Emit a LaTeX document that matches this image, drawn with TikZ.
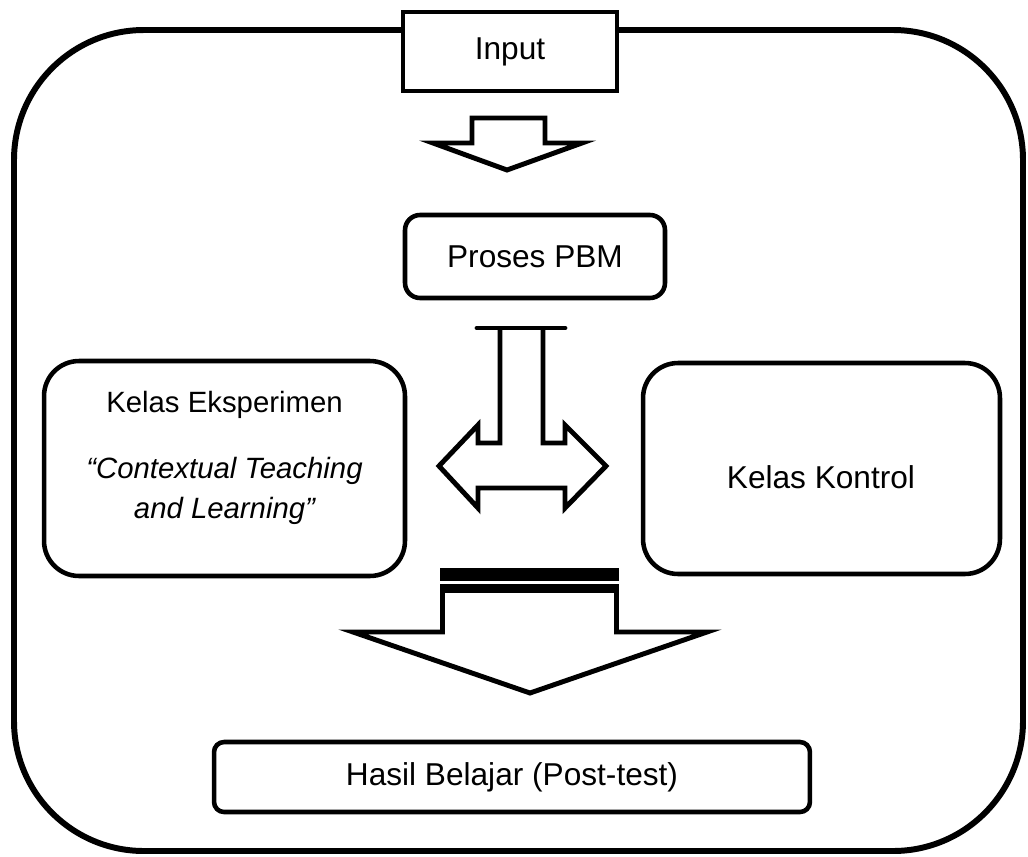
\documentclass[tikz,border=0pt]{standalone}
\usepackage{fontspec}
\setmainfont{Liberation Sans}
\usepackage{tikz}
\usetikzlibrary{positioning}

\begin{document}
\begin{tikzpicture}[x=0.02cm,y=-0.02cm,line join=miter,
    font=\fontsize{18}{22.7}\selectfont,
    bingkai/.style={line width=3.4pt,rounded corners=2.6cm},
    kotak/.style={draw,line width=2.6pt,fill=white,inner sep=0pt},
    bulat/.style={kotak,rounded corners=#1},
    panah/.style={draw,line width=2.8pt,fill=white}]
  \useasboundingbox (0,0) rectangle (1028,856);
  % bingkai luar
  \draw[bingkai] (14,30) rectangle (1023,851);
  % kotak-kotak
  \node[kotak,minimum width=4.28cm,minimum height=1.58cm] (input) at (510,51.5) {Input};
  \node[bulat=0.3cm,minimum width=5.2cm,minimum height=1.66cm] (pbm) at (535,256.5) {Proses PBM};
  \node[bulat=0.7cm,minimum width=7.22cm,minimum height=4.3cm] (eks) at (224.5,468.5) {};
  \node[align=center,font=\fontsize{16.7}{22.7}\selectfont] (eksteks) at (224.5,458)
     {Kelas Eksperimen\\[15pt]\itshape “Contextual Teaching\\\itshape and Learning”};
  \node[bulat=0.7cm,minimum width=7.14cm,minimum height=4.22cm] (kontrol) at (821.5,468.5) {};
  \node (kontrolteks) at (821,477) {Kelas Kontrol};
  \node[bulat=0.2cm,minimum width=11.92cm,minimum height=1.4cm] (hasil) at (512,777) {Hasil Belajar (Post-test)};
  % panah input ke proses
  \draw[panah] (472,118) -- (545,118) -- (545,143) -- (582,143) -- (507,170)
     -- (433,143) -- (472,143) -- cycle;
  % panah dua arah ke kedua kelas
  \draw[panah] (500,328) -- (500,443) -- (478,443) -- (478,425) -- (439,466)
     -- (478,508) -- (478,488) -- (565,488) -- (565,508) -- (606,466)
     -- (565,425) -- (565,443) -- (543,443) -- (543,328);
  \draw[line width=2.8pt,line cap=round] (477,328) -- (565,328);
  % panah besar ke hasil belajar
  \draw[panah] (442.5,588) -- (442.5,632) -- (353,632) -- (530,693) -- (707,632)
     -- (616.5,632) -- (616.5,588) -- cycle;
  \foreach \a/\b in {568/581,584/593}
     \fill (440,\a) rectangle (619,\b);
\end{tikzpicture}
\end{document}
